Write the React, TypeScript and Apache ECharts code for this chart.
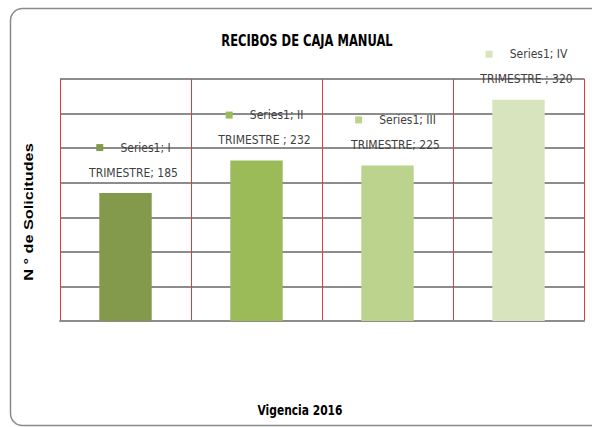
import React, { useEffect, useRef } from "react";
import * as echarts from "echarts";

const categories = ["I TRIMESTRE", "II TRIMESTRE", "III TRIMESTRE", "IV TRIMESTRE"];
const values = [185, 232, 225, 320];
const separators = [";", " ;", ";", " ;"];
const seriesName = "Series1";
const barColors = ["#83994b", "#9bbb59", "#bcd38e", "#d7e4bd"];
const titleText = "RECIBOS DE CAJA MANUAL";
const xTitle = "Vigencia 2016";
const yTitle = "N ° de Solicitudes";

const narrow = '"DejaVu Sans Condensed", "Liberation Sans Narrow", sans-serif';

export default function App() {
  const ref = useRef<HTMLDivElement>(null);
  useEffect(() => {
    if (!ref.current) return;
    const chart = echarts.init(ref.current, null, { renderer: "svg" });
    const rich: any = {
      t: { fontFamily: narrow, fontSize: 12, color: "#404040", lineHeight: 25 },
    };
    barColors.forEach((c, i) => {
      rich["sq" + i] = { width: 7, height: 7, backgroundColor: c };
    });
    chart.setOption({
      animation: false,
      grid: { left: 60, right: 8, top: 79, bottom: 106 },
      xAxis: {
        type: "category",
        data: categories,
        axisLine: { show: true, lineStyle: { color: "#8c8c8c", width: 2 } },
        axisTick: { show: false },
        axisLabel: { show: false },
        splitLine: { show: true, interval: 0, lineStyle: { color: "#e03c3c", width: 1 } },
      },
      yAxis: [
        {
          type: "value",
          min: 0,
          max: 350,
          interval: 50,
          axisLine: { show: false },
          axisTick: { show: false },
          axisLabel: { show: false },
          splitLine: { show: true, lineStyle: { color: "#8c8c8c", width: 2 } },
        },
        {
          type: "value",
          position: "right",
          min: 0,
          max: 350,
          interval: 50,
          axisLine: { show: true, lineStyle: { color: "#e03c3c", width: 1 } },
          axisTick: { show: false },
          axisLabel: { show: false },
          splitLine: { show: false },
        },
      ],
      series: [
        {
          type: "bar",
          name: seriesName,
          barWidth: "40%",
          z: 3,
          data: values.map((v, i) => ({ value: v, itemStyle: { color: barColors[i] } })),
          label: {
            show: true,
            position: "top",
            distance: 8,
            offset: [8, 0],
            align: "center",
            formatter: (p: any) => {
              const i = p.dataIndex;
              const parts = categories[i].split(" ");
              return `{sq${i}|}{t|     ${seriesName}; ${parts[0]}}\n{t|${parts[1]}${separators[i]} ${values[i]}}`;
            },
            rich,
          },
        },
      ],
      graphic: [
        {
          type: "rect",
          shape: { x: 10.5, y: 8.5, width: 660, height: 417, r: 12 },
          style: { fill: "none", stroke: "#8a8a8a", lineWidth: 1.5 },
          silent: true,
          z: -1,
        },
        {
          type: "text",
          x: 307,
          y: 40,
          scaleX: 0.8,
          style: {
            text: titleText,
            fontFamily: narrow,
            fontSize: 16,
            fontWeight: "bold",
            fill: "#000",
            align: "center",
            verticalAlign: "middle",
          },
        },
        {
          type: "text",
          x: 300,
          y: 410,
          scaleX: 0.85,
          style: {
            text: xTitle,
            fontFamily: narrow,
            fontSize: 14,
            fontWeight: "bold",
            fill: "#000",
            align: "center",
            verticalAlign: "middle",
          },
        },
        {
          type: "text",
          x: 29,
          y: 212,
          rotation: Math.PI / 2,
          scaleX: 1.25,
          style: {
            text: yTitle,
            fontFamily: '"Liberation Sans", Arial, sans-serif',
            fontSize: 13,
            fontWeight: "bold",
            fill: "#000",
            align: "center",
            verticalAlign: "middle",
          },
        },
      ],
    });
    return () => chart.dispose();
  }, []);
  return (
    <div
      ref={ref}
      style={{ position: "absolute", left: 0, top: 0, width: 592, height: 427 }}
    />
  );
}
